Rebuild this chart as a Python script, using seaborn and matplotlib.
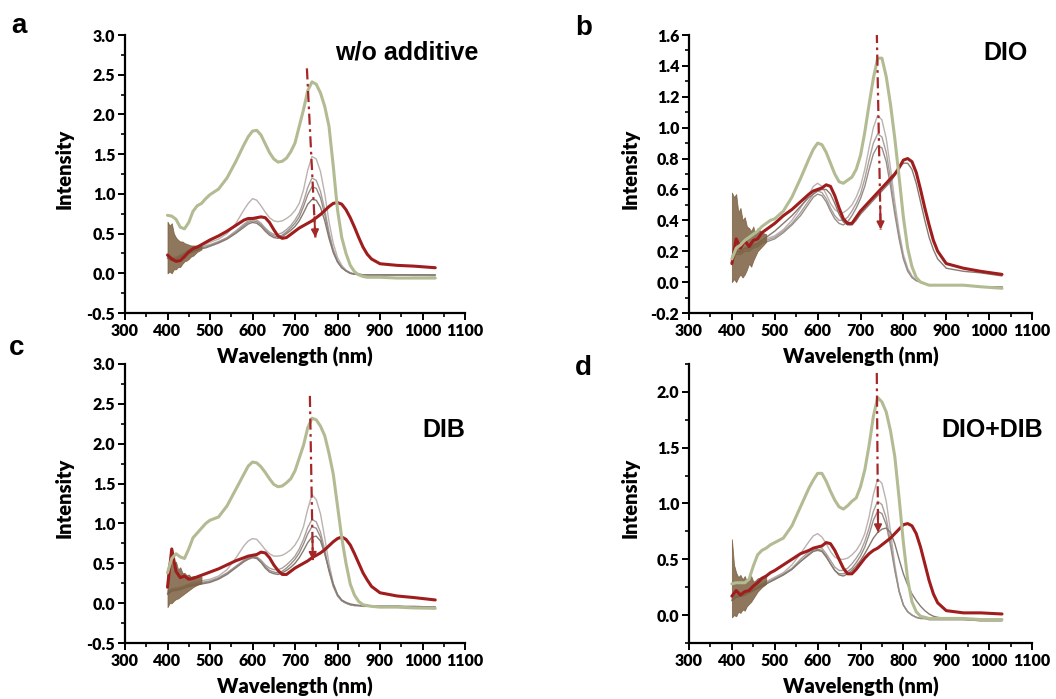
import matplotlib
matplotlib.use("Agg")
import matplotlib.pyplot as plt
from matplotlib.ticker import MultipleLocator, FormatStrFormatter
import seaborn as sns

# ---------------- data ----------------
WL = [400, 410, 420, 430, 440, 450, 460, 470, 480, 490, 500,
      520, 540, 560, 580,
      590, 600, 610, 620, 630, 640, 650, 660, 670, 680,
      690, 700, 710, 720, 730, 740, 750, 760, 770, 780,
      790, 800, 810, 820, 830, 840, 850, 860, 870, 880,
      900, 940, 980, 1030]

# panel a : w/o additive
GREEN_A = [0.73, 0.72, 0.68, 0.58, 0.56, 0.64, 0.78, 0.85, 0.88, 0.94, 0.99,
           1.06, 1.20, 1.40, 1.62,
           1.72, 1.79, 1.80, 1.74, 1.63, 1.52, 1.44, 1.40, 1.41, 1.45,
           1.53, 1.64, 1.85, 2.06, 2.30, 2.41, 2.38, 2.27, 2.10, 1.85,
           1.35, 0.80, 0.45, 0.25, 0.10, 0.02, -0.02, -0.04, -0.05, -0.05,
           -0.05, -0.06, -0.06, -0.06]
RED_A = [0.23, 0.18, 0.15, 0.16, 0.21, 0.27, 0.31, 0.33, 0.36, 0.39, 0.42,
         0.47, 0.53, 0.60, 0.67,
         0.69, 0.69, 0.70, 0.71, 0.70, 0.64, 0.55, 0.47, 0.44, 0.45,
         0.49, 0.53, 0.57, 0.60, 0.63, 0.66, 0.70, 0.74, 0.79, 0.84,
         0.88, 0.89, 0.87, 0.80, 0.70, 0.58, 0.45, 0.33, 0.24, 0.18,
         0.12, 0.10, 0.09, 0.07]
GRAY_A1 = [0.24, 0.20, 0.20, 0.23, 0.26, 0.29, 0.31, 0.33, 0.35, 0.37, 0.39,
           0.43, 0.50, 0.62, 0.80,
           0.88, 0.94, 0.92, 0.85, 0.77, 0.70, 0.66, 0.65, 0.66, 0.69,
           0.73, 0.79, 0.88, 1.05, 1.30, 1.47, 1.44, 1.28, 1.00, 0.65,
           0.38, 0.20, 0.10, 0.04, 0.01, -0.01, -0.02, -0.02, -0.02, -0.02,
           -0.02, -0.02, -0.03, -0.03]
GRAY_A2 = [0.22, 0.18, 0.19, 0.22, 0.25, 0.27, 0.29, 0.31, 0.33, 0.35, 0.36,
           0.40, 0.45, 0.53, 0.62,
           0.66, 0.68, 0.67, 0.63, 0.57, 0.52, 0.49, 0.49, 0.51, 0.55,
           0.60, 0.67, 0.76, 0.90, 1.08, 1.20, 1.17, 1.03, 0.80, 0.52,
           0.30, 0.16, 0.08, 0.03, 0.00, -0.01, -0.02, -0.02, -0.02, -0.02,
           -0.02, -0.02, -0.02, -0.03]
GRAY_A3 = [0.20, 0.17, 0.18, 0.21, 0.24, 0.26, 0.28, 0.30, 0.32, 0.33, 0.35,
           0.39, 0.44, 0.51, 0.60,
           0.64, 0.66, 0.65, 0.61, 0.55, 0.50, 0.47, 0.46, 0.48, 0.52,
           0.57, 0.63, 0.71, 0.84, 0.99, 1.09, 1.07, 0.95, 0.74, 0.48,
           0.28, 0.15, 0.07, 0.03, 0.00, -0.01, -0.01, -0.02, -0.02, -0.02,
           -0.02, -0.02, -0.02, -0.02]
GRAY_A4 = [0.19, 0.16, 0.17, 0.20, 0.23, 0.25, 0.27, 0.29, 0.31, 0.32, 0.34,
           0.38, 0.43, 0.50, 0.58,
           0.62, 0.64, 0.63, 0.59, 0.53, 0.48, 0.45, 0.44, 0.46, 0.50,
           0.54, 0.59, 0.66, 0.76, 0.87, 0.93, 0.92, 0.83, 0.66, 0.44,
           0.26, 0.14, 0.07, 0.03, 0.00, -0.01, -0.01, -0.02, -0.02, -0.02,
           -0.02, -0.02, -0.02, -0.02]

# panel b : DIO
GREEN_B = [0.15, 0.22, 0.24, 0.27, 0.29, 0.31, 0.33, 0.36, 0.38, 0.40, 0.41,
           0.46, 0.55, 0.67, 0.80,
           0.86, 0.90, 0.89, 0.84, 0.77, 0.70, 0.65, 0.64, 0.66, 0.68,
           0.73, 0.82, 0.97, 1.15, 1.32, 1.45, 1.45, 1.33, 1.15, 0.93,
           0.68, 0.42, 0.22, 0.10, 0.03, 0.00, -0.01, -0.02, -0.02, -0.02,
           -0.02, -0.02, -0.03, -0.04]
RED_B = [0.12, 0.28, 0.22, 0.27, 0.23, 0.27, 0.28, 0.32, 0.34, 0.36, 0.38,
         0.43, 0.47, 0.52, 0.57,
         0.59, 0.60, 0.61, 0.63, 0.62, 0.56, 0.48, 0.41, 0.38, 0.38,
         0.42, 0.46, 0.49, 0.52, 0.55, 0.58, 0.61, 0.64, 0.67, 0.70,
         0.74, 0.79, 0.80, 0.78, 0.71, 0.60, 0.48, 0.37, 0.27, 0.20,
         0.12, 0.09, 0.07, 0.05]
GRAY_B1 = [0.15, 0.20, 0.20, 0.22, 0.22, 0.24, 0.25, 0.27, 0.28, 0.29, 0.30,
           0.34, 0.40, 0.48, 0.57,
           0.62, 0.64, 0.62, 0.57, 0.51, 0.47, 0.45, 0.45, 0.47, 0.50,
           0.55, 0.62, 0.73, 0.87, 1.00, 1.08, 1.05, 0.93, 0.74, 0.52,
           0.33, 0.18, 0.09, 0.04, 0.01, 0.00, -0.01, -0.02, -0.02, -0.02,
           -0.02, -0.02, -0.03, -0.03]
GRAY_B2 = [0.14, 0.19, 0.19, 0.21, 0.21, 0.23, 0.24, 0.26, 0.27, 0.28, 0.29,
           0.33, 0.38, 0.45, 0.53,
           0.57, 0.59, 0.58, 0.54, 0.48, 0.43, 0.40, 0.40, 0.42, 0.46,
           0.51, 0.57, 0.67, 0.79, 0.90, 0.96, 0.94, 0.84, 0.67, 0.47,
           0.30, 0.16, 0.08, 0.03, 0.01, 0.00, -0.01, -0.02, -0.02, -0.02,
           -0.02, -0.02, -0.03, -0.03]
GRAY_B3 = [0.13, 0.18, 0.18, 0.20, 0.20, 0.22, 0.23, 0.25, 0.26, 0.27, 0.28,
           0.32, 0.37, 0.43, 0.51,
           0.55, 0.57, 0.56, 0.52, 0.46, 0.41, 0.38, 0.37, 0.39, 0.43,
           0.48, 0.54, 0.62, 0.73, 0.83, 0.88, 0.87, 0.78, 0.62, 0.44,
           0.28, 0.15, 0.07, 0.03, 0.01, 0.00, -0.01, -0.02, -0.02, -0.02,
           -0.02, -0.02, -0.03, -0.03]
GRAY_B4 = [0.14, 0.20, 0.20, 0.22, 0.22, 0.24, 0.25, 0.27, 0.29, 0.31, 0.33,
           0.38, 0.43, 0.49, 0.55,
           0.57, 0.59, 0.60, 0.60, 0.57, 0.51, 0.44, 0.39, 0.37, 0.37,
           0.40, 0.44, 0.47, 0.50, 0.53, 0.56, 0.59, 0.62, 0.65, 0.69,
           0.74, 0.77, 0.77, 0.73, 0.64, 0.52, 0.40, 0.29, 0.21, 0.15,
           0.09, 0.07, 0.06, 0.04]

# panel c : DIB
GREEN_C = [0.38, 0.56, 0.62, 0.58, 0.56, 0.68, 0.82, 0.88, 0.94, 1.00, 1.04,
           1.08, 1.22, 1.42, 1.62,
           1.72, 1.77, 1.76, 1.71, 1.64, 1.56, 1.49, 1.46, 1.47, 1.51,
           1.56, 1.66, 1.82, 1.98, 2.20, 2.32, 2.30, 2.22, 2.10, 1.88,
           1.62, 1.22, 0.82, 0.50, 0.24, 0.10, 0.02, -0.02, -0.03, -0.04,
           -0.05, -0.05, -0.06, -0.065]
RED_C = [0.20, 0.68, 0.40, 0.32, 0.34, 0.30, 0.31, 0.33, 0.35, 0.37, 0.39,
         0.43, 0.48, 0.53, 0.57,
         0.59, 0.60, 0.61, 0.64, 0.63, 0.57, 0.48, 0.41, 0.36, 0.36,
         0.40, 0.44, 0.47, 0.50, 0.53, 0.57, 0.60, 0.63, 0.67, 0.72,
         0.77, 0.81, 0.83, 0.80, 0.73, 0.62, 0.50, 0.38, 0.29, 0.21,
         0.13, 0.09, 0.07, 0.04]
GRAY_C1 = [0.15, 0.18, 0.19, 0.20, 0.22, 0.24, 0.26, 0.27, 0.28, 0.29, 0.30,
           0.34, 0.42, 0.56, 0.72,
           0.78, 0.81, 0.80, 0.74, 0.67, 0.62, 0.59, 0.59, 0.60, 0.63,
           0.67, 0.73, 0.82, 0.96, 1.18, 1.36, 1.30, 1.12, 0.82, 0.50,
           0.25, 0.10, 0.03, 0.00, -0.02, -0.03, -0.03, -0.04, -0.04, -0.04,
           -0.04, -0.04, -0.05, -0.05]
GRAY_C2 = [0.13, 0.17, 0.18, 0.19, 0.21, 0.23, 0.24, 0.25, 0.26, 0.27, 0.28,
           0.32, 0.38, 0.46, 0.54,
           0.57, 0.59, 0.58, 0.54, 0.48, 0.44, 0.42, 0.42, 0.44, 0.48,
           0.53, 0.59, 0.68, 0.80, 0.95, 1.05, 1.02, 0.89, 0.67, 0.42,
           0.22, 0.10, 0.03, 0.00, -0.02, -0.03, -0.03, -0.04, -0.04, -0.04,
           -0.04, -0.04, -0.05, -0.05]
GRAY_C3 = [0.12, 0.16, 0.17, 0.18, 0.20, 0.22, 0.23, 0.24, 0.25, 0.26, 0.27,
           0.31, 0.37, 0.45, 0.53,
           0.56, 0.58, 0.57, 0.52, 0.46, 0.41, 0.39, 0.38, 0.40, 0.44,
           0.49, 0.55, 0.63, 0.74, 0.87, 0.96, 0.94, 0.83, 0.63, 0.40,
           0.21, 0.09, 0.03, 0.00, -0.02, -0.03, -0.03, -0.04, -0.04, -0.04,
           -0.04, -0.04, -0.05, -0.05]
GRAY_C4 = [0.11, 0.15, 0.16, 0.17, 0.19, 0.21, 0.22, 0.23, 0.24, 0.25, 0.26,
           0.30, 0.36, 0.44, 0.52,
           0.55, 0.57, 0.56, 0.51, 0.44, 0.39, 0.37, 0.36, 0.38, 0.41,
           0.45, 0.50, 0.57, 0.66, 0.76, 0.83, 0.84, 0.78, 0.62, 0.42,
           0.24, 0.11, 0.04, 0.01, -0.01, -0.02, -0.03, -0.03, -0.04, -0.04,
           -0.04, -0.04, -0.04, -0.05]

# panel d : DIO+DIB
GREEN_D = [0.28, 0.29, 0.29, 0.29, 0.32, 0.44, 0.54, 0.58, 0.60, 0.63, 0.65,
           0.69, 0.80, 0.97, 1.14,
           1.21, 1.27, 1.27, 1.20, 1.11, 1.03, 0.97, 0.95, 0.98, 1.02,
           1.05, 1.15, 1.30, 1.52, 1.78, 1.95, 1.91, 1.82, 1.65, 1.42,
           1.05, 0.65, 0.32, 0.12, 0.03, -0.01, -0.02, -0.03, -0.03, -0.03,
           -0.03, -0.03, -0.04, -0.04]
RED_D = [0.17, 0.22, 0.18, 0.21, 0.22, 0.26, 0.29, 0.33, 0.35, 0.38, 0.40,
         0.45, 0.50, 0.55, 0.58,
         0.60, 0.61, 0.62, 0.65, 0.64, 0.58, 0.50, 0.42, 0.37, 0.37,
         0.41, 0.46, 0.51, 0.55, 0.58, 0.60, 0.63, 0.66, 0.69, 0.73,
         0.77, 0.81, 0.82, 0.80, 0.73, 0.61, 0.46, 0.31, 0.19, 0.11,
         0.04, 0.02, 0.02, 0.01]
GRAY_D1 = [0.15, 0.18, 0.19, 0.20, 0.22, 0.24, 0.26, 0.28, 0.30, 0.32, 0.34,
           0.38, 0.45, 0.55, 0.66,
           0.71, 0.73, 0.70, 0.64, 0.57, 0.52, 0.50, 0.50, 0.51, 0.54,
           0.58, 0.64, 0.73, 0.88, 1.08, 1.22, 1.18, 1.02, 0.75, 0.45,
           0.22, 0.09, 0.03, 0.00, -0.02, -0.03, -0.03, -0.04, -0.04, -0.04,
           -0.04, -0.04, -0.05, -0.05]
GRAY_D2 = [0.14, 0.17, 0.18, 0.19, 0.21, 0.23, 0.25, 0.27, 0.29, 0.31, 0.33,
           0.37, 0.42, 0.50, 0.57,
           0.60, 0.61, 0.60, 0.55, 0.49, 0.43, 0.40, 0.40, 0.42, 0.46,
           0.51, 0.57, 0.66, 0.78, 0.93, 1.02, 0.99, 0.87, 0.66, 0.42,
           0.22, 0.09, 0.03, 0.00, -0.02, -0.03, -0.03, -0.04, -0.04, -0.04,
           -0.04, -0.04, -0.05, -0.05]
GRAY_D3 = [0.13, 0.16, 0.17, 0.18, 0.20, 0.22, 0.24, 0.26, 0.28, 0.30, 0.32,
           0.36, 0.41, 0.48, 0.55,
           0.58, 0.59, 0.58, 0.53, 0.46, 0.40, 0.37, 0.37, 0.39, 0.42,
           0.47, 0.53, 0.61, 0.72, 0.85, 0.93, 0.91, 0.81, 0.62, 0.40,
           0.21, 0.09, 0.03, 0.00, -0.02, -0.03, -0.03, -0.04, -0.04, -0.04,
           -0.04, -0.04, -0.05, -0.05]
GRAY_D4 = [0.13, 0.16, 0.17, 0.18, 0.20, 0.22, 0.24, 0.26, 0.28, 0.30, 0.32,
           0.36, 0.41, 0.48, 0.54,
           0.57, 0.58, 0.57, 0.52, 0.46, 0.40, 0.36, 0.35, 0.37, 0.40,
           0.44, 0.49, 0.55, 0.62, 0.69, 0.74, 0.77, 0.78, 0.74, 0.64,
           0.50, 0.37, 0.27, 0.19, 0.13, 0.08, 0.04, 0.01, -0.01, -0.02,
           -0.03, -0.03, -0.04, -0.04]

# noisy low-wavelength band (envelope of the detector noise)
WL_NOISE = [400, 405, 410, 415, 420, 425, 430, 435, 440, 445, 450, 455, 460, 470, 480]
NOISE_A_LOW = [0.00, 0.02, 0.00, 0.05, 0.05, 0.08, 0.08, 0.12, 0.15, 0.16, 0.18, 0.21, 0.22, 0.27, 0.30]
NOISE_A_HIGH = [0.65, 0.60, 0.63, 0.50, 0.45, 0.42, 0.40, 0.40, 0.38, 0.37, 0.36, 0.35, 0.35, 0.35, 0.35]
NOISE_B_LOW = [0.00, 0.02, 0.00, 0.03, 0.05, 0.03, 0.05, 0.08, 0.12, 0.10, 0.14, 0.17, 0.20, 0.23, 0.26]
NOISE_B_HIGH = [0.58, 0.55, 0.57, 0.45, 0.48, 0.40, 0.42, 0.36, 0.35, 0.33, 0.36, 0.30, 0.35, 0.32, 0.31]
NOISE_C_LOW = [-0.05, 0.00, 0.00, 0.03, 0.05, 0.06, 0.08, 0.10, 0.12, 0.14, 0.16, 0.18, 0.20, 0.23, 0.25]
NOISE_C_HIGH = [0.45, 0.42, 0.55, 0.48, 0.52, 0.42, 0.45, 0.38, 0.38, 0.35, 0.36, 0.33, 0.34, 0.33, 0.33]
NOISE_D_LOW = [-0.02, 0.00, -0.01, 0.03, 0.02, 0.05, 0.04, 0.08, 0.10, 0.12, 0.15, 0.18, 0.21, 0.25, 0.28]
NOISE_D_HIGH = [0.68, 0.45, 0.38, 0.34, 0.36, 0.32, 0.35, 0.30, 0.33, 0.35, 0.30, 0.31, 0.33, 0.34, 0.35]

# dash-dot arrows: (x_start, y_start, x_tip, y_tip)
ARROW_A = (728, 2.58, 748, 0.45)
ARROW_B = (738, 1.62, 747, 0.34)
ARROW_C = (735, 2.60, 742, 0.54)
ARROW_D = (738, 2.17, 741, 0.74)

PANEL_LETTERS = ["a", "b", "c", "d"]
TITLES = ["w/o additive", "DIO", "DIB", "DIO+DIB"]
YLIMS = [(-0.5, 3.0), (-0.2, 1.6), (-0.5, 3.0), (-0.25, 2.25)]
YMAJOR = [0.5, 0.2, 0.5, 0.5]
XLABEL = "Wavelength (nm)"
YLABEL = "Intensity"

# ---------------- style ----------------
sns.set_theme(style="ticks")
plt.rcParams["font.family"] = ["Lato", "DejaVu Sans"]
plt.rcParams["font.weight"] = "bold"
plt.rcParams["axes.labelweight"] = "bold"
plt.rcParams["text.color"] = "black"
plt.rcParams["axes.labelcolor"] = "black"
plt.rcParams["xtick.color"] = "black"
plt.rcParams["ytick.color"] = "black"
plt.rcParams["axes.edgecolor"] = "black"

GREEN = "#b3bb93"
RED = "#a01d1d"
GRAYS = ["#bcb2b0", "#a9a09d", "#988e89", "#867a72"]
NOISE = "#7a5f3f"
ARROW = "#a52828"

W, H = 1056, 699
fig = plt.figure(figsize=(W / 100, H / 100), dpi=100)
fig.patch.set_facecolor("white")

# axes boxes in pixels: left, top, right, bottom
BOXES = [(125, 35, 465, 313), (689, 35, 1032, 313),
         (125, 364, 465, 643), (689, 364, 1032, 643)]

panels = [
    (GREEN_A, RED_A, [GRAY_A1, GRAY_A2, GRAY_A3, GRAY_A4], NOISE_A_LOW, NOISE_A_HIGH, ARROW_A),
    (GREEN_B, RED_B, [GRAY_B1, GRAY_B2, GRAY_B3, GRAY_B4], NOISE_B_LOW, NOISE_B_HIGH, ARROW_B),
    (GREEN_C, RED_C, [GRAY_C1, GRAY_C2, GRAY_C3, GRAY_C4], NOISE_C_LOW, NOISE_C_HIGH, ARROW_C),
    (GREEN_D, RED_D, [GRAY_D1, GRAY_D2, GRAY_D3, GRAY_D4], NOISE_D_LOW, NOISE_D_HIGH, ARROW_D),
]

# text placement in pixels
LETTER_POS = [(11, 33), (575, 35), (9, 355), (575, 375)]
TITLE_POS = [(478, 60), (1028, 60), (465, 437), (1043, 437)]
YLABEL_X = [-0.178, -0.172, -0.178, -0.172]

for i, (green, red, grays, nlow, nhigh, arrow) in enumerate(panels):
    l, t, r, b = BOXES[i]
    ax = fig.add_axes([l / W, 1 - b / H, (r - l) / W, (b - t) / H])
    ax.set_facecolor("none")

    for g, col in zip(grays, GRAYS):
        sns.lineplot(x=WL, y=g, ax=ax, color=col, linewidth=1.0,
                     estimator=None, sort=False, legend=False)
    ax.fill_between(WL_NOISE, nlow, nhigh, color=NOISE, alpha=0.85,
                    linewidth=0.6, edgecolor=NOISE, zorder=2.5)
    sns.lineplot(x=WL, y=red, ax=ax, color=RED, linewidth=2.2,
                 estimator=None, sort=False, legend=False, zorder=3)
    sns.lineplot(x=WL, y=green, ax=ax, color=GREEN, linewidth=2.2,
                 estimator=None, sort=False, legend=False, zorder=3.5)

    # dash-dot arrow
    x0, y0, x1, y1 = arrow
    ax.plot([x0, x1], [y0, y1], color=ARROW, lw=1.6,
            linestyle=(0, (5, 2, 1.2, 2)), zorder=4)
    fx = x1 - (x1 - x0) * 0.12
    fy = y1 - (y1 - y0) * 0.12
    ax.annotate("", xy=(x1, y1), xytext=(fx, fy),
                arrowprops=dict(arrowstyle="-|>", color=ARROW, lw=1.4,
                                mutation_scale=11, shrinkA=0, shrinkB=0),
                zorder=4)

    ax.set_xlim(300, 1100)
    ax.set_ylim(*YLIMS[i])
    ax.xaxis.set_major_locator(MultipleLocator(100))
    ax.xaxis.set_minor_locator(MultipleLocator(50))
    ax.yaxis.set_major_locator(MultipleLocator(YMAJOR[i]))
    ax.yaxis.set_minor_locator(MultipleLocator(YMAJOR[i] / 2))
    ax.yaxis.set_major_formatter(FormatStrFormatter("%.1f"))
    if i == 3:
        ax.set_yticks([0.0, 0.5, 1.0, 1.5, 2.0])
    for side in ["top", "right"]:
        ax.spines[side].set_visible(False)
    for side in ["left", "bottom"]:
        ax.spines[side].set_linewidth(1.6)
        ax.spines[side].set_color("black")
    ax.tick_params(which="major", direction="out", length=5, width=1.4,
                   labelsize=11.5, pad=2, colors="black")
    ax.tick_params(which="minor", direction="out", length=3, width=1.2,
                   colors="black")
    for lab in ax.get_xticklabels() + ax.get_yticklabels():
        lab.set_fontweight("heavy")

    ax.set_xlabel(XLABEL, fontsize=14.5, fontweight="heavy", color="black")
    ax.set_ylabel(YLABEL, fontsize=14.5, fontweight="heavy", color="black")
    ax.xaxis.label.set_verticalalignment("center")
    ax.xaxis.set_label_coords(0.5, -44 / (b - t))
    ax.yaxis.label.set_verticalalignment("center")
    ax.yaxis.set_label_coords(YLABEL_X[i], 0.52)

    lx, ly = LETTER_POS[i]
    fig.text(lx / W, 1 - ly / H, PANEL_LETTERS[i], fontsize=20,
             fontweight="bold", family="Liberation Sans", color="black",
             ha="left", va="baseline")
    tx, ty = TITLE_POS[i]
    fig.text(tx / W, 1 - ty / H, TITLES[i], fontsize=18,
             fontweight="bold", family="Liberation Sans", color="black",
             ha="right", va="baseline")

fig.savefig("out.png", dpi=100, facecolor="white")
